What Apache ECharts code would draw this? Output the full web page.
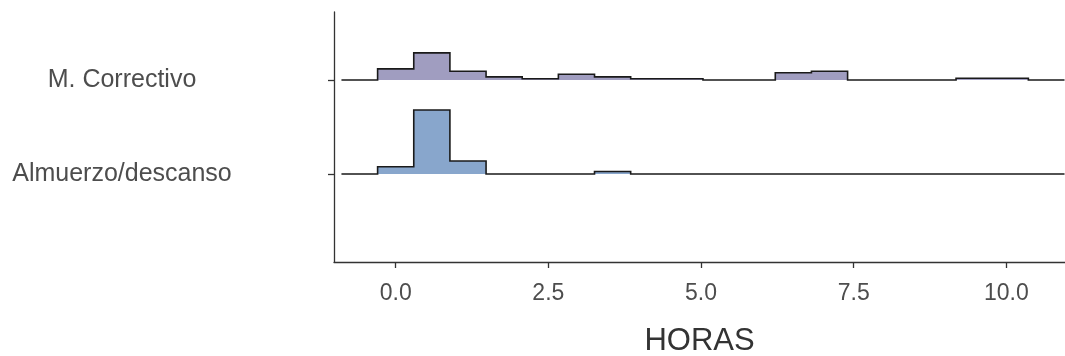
<!DOCTYPE html>
<html>
<head>
<meta charset="utf-8">
<script src="https://cdn.jsdelivr.net/npm/echarts@6/dist/echarts.min.js"></script>
<style>
html,body{margin:0;padding:0;background:#fff;}
#chart{width:1065px;height:356px;}
</style>
</head>
<body>
<div id="chart"></div>
<script>
// ---- DATA ----
const categories = ['Almuerzo/descanso', 'M. Correctivo'];
const xTicks = [0, 2.5, 5, 7.5, 10];
const binWidth = 0.592;
const binCenters = [-0.592, 0, 0.592, 1.184, 1.776, 2.368, 2.960, 3.552, 4.144, 4.736,
  5.328, 5.920, 6.512, 7.104, 7.696, 8.288, 8.880, 9.472, 10.064, 10.656];
const almuerzoHeights = [0, 0.078, 0.681, 0.138, 0, 0, 0, 0.027, 0, 0,
  0, 0, 0, 0, 0, 0, 0, 0, 0, 0];
const correctivoHeights = [0, 0.119, 0.289, 0.094, 0.034, 0.013, 0.062, 0.034, 0.013, 0.013,
  0, 0, 0.077, 0.094, 0, 0, 0, 0.019, 0.019, 0];

const FONT = 'Liberation Sans, Arial, sans-serif';

function ridgeData(catIndex, heights) {
  return binCenters.map((c, i) => [c, catIndex, heights[i]]);
}

function makeRender(fillColor) {
  return function (params, api) {
    if (params.dataIndexInside !== 0) return null;
    const n = params.dataInsideLength;
    const pts = [];
    let base = 0;
    for (let i = 0; i < n; i++) {
      const x = api.value(0, i);
      base = api.value(1, i);
      const h = api.value(2, i);
      const l = api.coord([x - binWidth / 2, base + h]);
      const r = api.coord([x + binWidth / 2, base + h]);
      pts.push(l, r);
    }
    const first = pts[0], last = pts[pts.length - 1];
    const b0 = api.coord([binCenters[0] - binWidth / 2, base]);
    const b1 = api.coord([binCenters[binCenters.length - 1] + binWidth / 2, base]);
    const poly = [[first[0], b0[1]]].concat(pts).concat([[last[0], b1[1]]]);
    return {
      type: 'group',
      children: [
        { type: 'polygon', shape: { points: poly }, style: { fill: fillColor, stroke: null } },
        { type: 'polyline', shape: { points: pts }, style: { fill: null, stroke: '#1a1a1a', lineWidth: 1.6 } }
      ]
    };
  };
}

const chart = echarts.init(document.getElementById('chart'), null, { renderer: 'canvas' });
chart.setOption({
  animation: false,
  backgroundColor: '#ffffff',
  grid: { left: 334, right: 0, top: 12, bottom: 94, containLabel: false, outerBoundsMode: 'none' },
  xAxis: {
    type: 'value',
    min: -1.01,
    max: 10.96,
    name: 'HORAS',
    nameLocation: 'middle',
    nameGap: 64,
    nameTextStyle: { fontFamily: FONT, fontSize: 31, color: '#333333' },
    axisLine: { show: true, onZero: false, lineStyle: { color: '#333333', width: 1.3 } },
    axisTick: { show: true, length: 6, customValues: xTicks, lineStyle: { color: '#333333', width: 1.3 } },
    axisLabel: {
      customValues: xTicks,
      margin: 20,
      fontFamily: FONT, fontSize: 23, color: '#4d4d4d',
      formatter: v => Number(v).toFixed(1)
    },
    splitLine: { show: false }
  },
  yAxis: {
    type: 'value',
    min: -0.936,
    max: 1.724,
    axisLine: { show: true, onZero: false, lineStyle: { color: '#333333', width: 1.3 } },
    axisTick: { show: true, length: 6, customValues: [0, 1], lineStyle: { color: '#333333', width: 1.3 } },
    axisLabel: {
      customValues: [0, 1],
      align: 'center',
      margin: 212,
      fontFamily: FONT, fontSize: 25, color: '#4d4d4d',
      formatter: v => categories[Math.round(v)]
    },
    splitLine: { show: false }
  },
  series: [
    {
      type: 'custom', name: categories[1], clip: true,
      renderItem: makeRender('#a09dc0'),
      data: ridgeData(1, correctivoHeights), z: 2
    },
    {
      type: 'custom', name: categories[0], clip: true,
      renderItem: makeRender('#88a6cc'),
      data: ridgeData(0, almuerzoHeights), z: 3
    }
  ]
});
</script>
</body>
</html>
